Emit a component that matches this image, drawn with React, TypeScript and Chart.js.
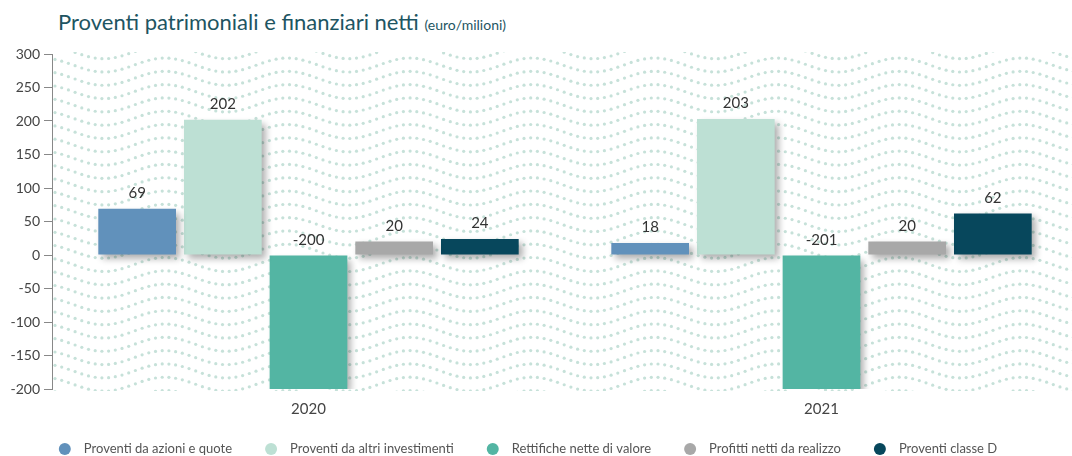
import React, { useEffect, useRef } from 'react';
import { Chart, registerables } from 'chart.js';

Chart.register(...registerables);

const categories = ['2020', '2021'];
const seriesLabels = [
  'Proventi da azioni e quote',
  'Proventi da altri investimenti',
  'Rettifiche nette di valore',
  'Profitti netti da realizzo',
  'Proventi classe D',
];
const proventiAzioni = [69, 18];
const proventiAltri = [202, 203];
const rettifiche = [-200, -201];
const profitti = [20, 20];
const classeD = [24, 62];
const seriesColors = ['#6191bb', '#bde0d4', '#53b5a3', '#a8a8a8', '#07475c'];
const yMin = -200;
const yMax = 300;
const yStep = 50;

const FONT = 'Lato, "Open Sans", sans-serif';

const wavePattern = {
  id: 'wavePattern',
  beforeDraw(chart: any) {
    const { ctx, chartArea: a } = chart;
    ctx.save();
    ctx.beginPath();
    ctx.rect(a.left, a.top - 2, a.right - a.left, a.bottom - a.top + 4);
    ctx.clip();
    ctx.fillStyle = '#c6e1d9';
    const rowGap = 13.3;
    const dotGap = 6.7;
    const period = 122.4;
    const amp = 7;
    for (let y0 = 65 - rowGap * 3; y0 < a.bottom + 20; y0 += rowGap) {
      for (let x = a.left + 3; x < a.right; x += dotGap) {
        const y = y0 + amp * Math.cos((2 * Math.PI * (x - 593.3)) / period);
        ctx.beginPath();
        ctx.arc(x, y, 1.6, 0, Math.PI * 2);
        ctx.fill();
      }
    }
    ctx.restore();
  },
};

const barShadow = {
  id: 'barShadow',
  beforeDatasetsDraw(chart: any) {
    const ctx = chart.ctx;
    ctx.save();
    ctx.shadowColor = 'rgba(0,0,0,0.33)';
    ctx.shadowBlur = 7;
    ctx.shadowOffsetX = 4;
    ctx.shadowOffsetY = 4;
  },
  afterDatasetsDraw(chart: any) {
    chart.ctx.restore();
  },
};

const valueLabels = {
  id: 'valueLabels',
  afterDraw(chart: any) {
    const ctx = chart.ctx;
    ctx.save();
    ctx.font = `15px ${FONT}`;
    ctx.fillStyle = '#333333';
    ctx.textAlign = 'center';
    ctx.textBaseline = 'bottom';
    chart.data.datasets.forEach((ds: any, i: number) => {
      const meta = chart.getDatasetMeta(i);
      meta.data.forEach((el: any, j: number) => {
        const top = Math.min(el.y, el.base);
        ctx.fillText(String(ds.data[j]), el.x, top - 8);
      });
    });
    ctx.restore();
  },
};

const customLegend = {
  id: 'customLegend',
  afterDraw(chart: any) {
    const ctx = chart.ctx;
    ctx.save();
    ctx.font = `13px ${FONT}`;
    ctx.textBaseline = 'middle';
    ctx.textAlign = 'left';
    const r = 6;
    const textGap = 13;
    const itemGap = 33;
    const ds = chart.data.datasets;
    const widths = ds.map((d: any) => ctx.measureText(d.label).width);
    const total =
      widths.reduce((s: number, w: number) => s + 2 * r + textGap + w, 0) + itemGap * (ds.length - 1);
    const center = 528;
    const y = 449;
    let x = center - total / 2;
    ds.forEach((d: any, i: number) => {
      ctx.fillStyle = d.backgroundColor;
      ctx.beginPath();
      ctx.arc(x + r, y, r, 0, Math.PI * 2);
      ctx.fill();
      ctx.fillStyle = '#555555';
      ctx.fillText(d.label, x + 2 * r + textGap, y);
      x += 2 * r + textGap + widths[i] + itemGap;
    });
    ctx.restore();
  },
};

export default function App() {
  const ref = useRef<HTMLCanvasElement>(null);
  useEffect(() => {
    const values = [proventiAzioni, proventiAltri, rettifiche, profitti, classeD];
    const chart = new Chart(ref.current!, {
      type: 'bar',
      data: {
        labels: categories,
        datasets: values.map((v, i) => ({
          label: seriesLabels[i],
          data: v,
          backgroundColor: seriesColors[i],
          borderWidth: 0,
          categoryPercentage: 0.835,
          barPercentage: 0.907,
        })),
      },
      options: {
        responsive: false,
        animation: false,
        layout: { padding: { top: 54, left: 0, right: 0, bottom: 27 } },
        plugins: {
          title: { display: false },
          tooltip: { enabled: false },
          legend: { display: false },
        },
        scales: {
          x: {
            grid: { display: false, tickLength: 0 },
            border: { display: false },
            ticks: { font: { family: FONT, size: 15 }, color: '#444444', padding: 11 },
          },
          y: {
            min: yMin,
            max: yMax,
            afterFit: (s: any) => {
              s.width = 52;
            },
            grid: { display: true, drawOnChartArea: false, tickLength: 8, color: '#888888' },
            border: { display: true, color: '#888888' },
            ticks: {
              stepSize: yStep,
              font: { family: FONT, size: 14 },
              color: '#444444',
              padding: 4,
            },
          },
        },
      },
      plugins: [wavePattern, barShadow, valueLabels, customLegend],
    } as any);
    return () => chart.destroy();
  }, []);

  return (
    <div style={{ position: 'absolute', left: 0, top: 0, width: 1072, height: 456, overflow: 'hidden', background: '#fff' }}>
      <div
        style={{
          position: 'absolute',
          left: 58,
          top: 8,
          fontFamily: FONT,
          fontSize: 22,
          color: '#1e5562',
          whiteSpace: 'nowrap',
        }}
      >
        Proventi patrimoniali e finanziari netti <span style={{ fontSize: 14 }}>(euro/milioni)</span>
      </div>
      <canvas ref={ref} width={1078} height={456} style={{ position: 'absolute', left: 0, top: 0, display: 'block' }} />
    </div>
  );
}
